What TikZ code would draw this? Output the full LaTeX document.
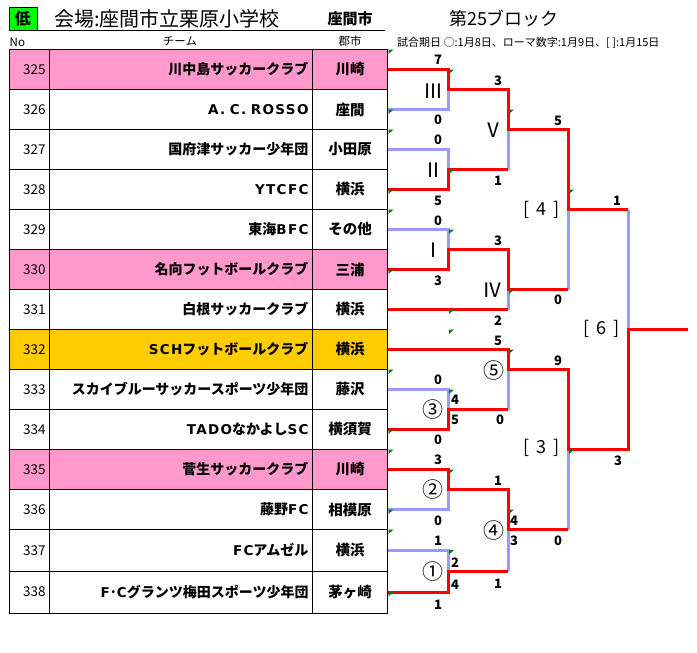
\documentclass[tikz,border=0pt]{standalone}
\usepackage{fontspec}
\newfontfamily\jp{Noto Sans CJK JP}
\newfontfamily\latw[LetterSpace=10]{DejaVu Sans}
\definecolor{rowpink}{RGB}{255,153,204}
\definecolor{roworange}{RGB}{255,204,0}
\definecolor{winred}{RGB}{255,0,0}
\definecolor{loseblue}{RGB}{153,153,255}
\definecolor{hdrgreen}{RGB}{0,255,0}
\definecolor{markgreen}{RGB}{0,128,0}
\newcommand\nofnt{\jp\fontsize{13.5}{14}\selectfont}
\newcommand\teamfnt{\jp\bfseries\fontsize{14}{16}\selectfont}
\newcommand\cityfnt{\jp\bfseries\fontsize{14.5}{16}\selectfont}
\newcommand\lt[1]{{\latw\bfseries\fontsize{13.5}{16}\selectfont #1}}
\tikzset{
  cellbox/.style={draw=black, line width=1pt, inner sep=0pt, inner xsep=4pt},
  score/.style={font=\jp\bfseries\fontsize{13}{13}\selectfont, inner sep=0pt},
  mlbl/.style={font=\jp\fontsize{20}{20}\selectfont, inner sep=0pt},
  clbl/.style={font=\jp\fontsize{21}{21}\selectfont, inner sep=0pt},
  rlbl/.style={font=\jp\fontsize{18}{18}\selectfont, inner sep=0pt},
  hdr/.style={font=\jp\fontsize{11.5}{12}\selectfont, inner sep=0pt},
  winline/.style={draw=winred, line width=3pt, line join=miter},
  loseline/.style={draw=loseblue, line width=3pt, line join=miter},
}
\newcommand\teamrow[6]{%
  \node[cellbox, fill=#4, minimum width=40pt, minimum height=#3pt, text width=32pt, align=right, font=\nofnt] (n#1) at (29.5,#2) {#1};
  \node[cellbox, fill=#4, minimum width=263pt, minimum height=#3pt, text width=255pt, align=right, font=\teamfnt] (t#1) at (181,#2) {#5};
  \node[cellbox, fill=#4, minimum width=75pt, minimum height=#3pt, font=\cityfnt] (c#1) at (350,#2) {#6};
}
\newcommand\cmark[2]{\fill[markgreen] (#1+1,#2) -- ++(5,0) -- ++(-5,4.5) -- cycle;}
\begin{document}
\begin{tikzpicture}[x=1pt,y=-1pt]
\useasboundingbox[fill=white] (0,0) rectangle (697,653);

% header
\node[draw=black, line width=1pt, fill=hdrgreen, minimum width=28pt, minimum height=23pt, inner sep=0pt, font=\jp\bfseries\fontsize{16}{16}\selectfont] (low) at (23,18.5) {低};
\node[anchor=west, inner sep=0pt, font=\jp\fontsize{20}{20}\selectfont] (venue) at (54,18.5) {会場:座間市立栗原小学校};
\coordinate (ulend) at (385,30.5);
\draw[line width=1pt] (low.south east) -- (ulend);
\node[inner sep=0pt, font=\jp\bfseries\fontsize{15}{15}\selectfont] (city) at (350,19) {座間市};
\node[inner sep=0pt, font=\jp\fontsize{18}{18}\selectfont] (block) at (504,19) {第25ブロック};
\node[hdr, anchor=west] (hno) at (9.5,42) {No};
\node[hdr] (hteam) at (180,41.5) {チーム};
\node[hdr] (hcity) at (350,41.5) {郡市};
\node[anchor=west, inner sep=0pt, font=\jp\fontsize{11}{11}\selectfont] (legend) at (397,43) {試合期日\ ○:1月8日、ローマ数字:1月9日、[\ ]:1月15日};

% table
\teamrow{325}{69.5}{40}{rowpink}{川中島サッカークラブ}{川崎}
\teamrow{326}{109.5}{40}{white}{\lt{A.\ C.\ ROSSO}}{座間}
\teamrow{327}{149.5}{40}{white}{国府津サッカー少年団}{小田原}
\teamrow{328}{189.5}{40}{white}{\lt{YTCFC}}{横浜}
\teamrow{329}{229.5}{40}{white}{東海\lt{BFC}}{その他}
\teamrow{330}{269.5}{40}{rowpink}{名向フットボールクラブ}{三浦}
\teamrow{331}{309.5}{40}{white}{白根サッカークラブ}{横浜}
\teamrow{332}{349.5}{40}{roworange}{\lt{SCH}フットボールクラブ}{横浜}
\teamrow{333}{389.5}{40}{white}{スカイブルーサッカースポーツ少年団}{藤沢}
\teamrow{334}{429.5}{40}{white}{\lt{TADO}なかよし\lt{SC}}{横須賀}
\teamrow{335}{469.5}{40}{rowpink}{菅生サッカークラブ}{川崎}
\teamrow{336}{509.5}{40}{white}{藤野\lt{FC}}{相模原}
\teamrow{337}{550.25}{41.5}{white}{\lt{FC}アムゼル}{横浜}
\teamrow{338}{592}{42}{white}{\lt{F}･\lt{C}グランツ梅田スポーツ少年団}{茅ヶ崎}

% bracket coordinates
\coordinate (jIII) at (448,89.5);
\coordinate (jII) at (448,169.5);
\coordinate (jV) at (508,129.5);
\coordinate (jI) at (448,249.5);
\coordinate (jIV) at (508,289.5);
\coordinate (jQ4) at (568,209.5);
\coordinate (jc3) at (448,409.5);
\coordinate (jc5) at (508,369.5);
\coordinate (jQ3) at (568,449.5);
\coordinate (jc2) at (448,489.5);
\coordinate (jc1) at (448,571);
\coordinate (jc4) at (508,529.5);
\coordinate (jQ6) at (628,329.5);
\coordinate (jQ6t) at (628,209.5);
\coordinate (vIIend) at (508,169.5);
\coordinate (ivbot) at (508,309.5);
\coordinate (q4bot) at (568,289.5);
\coordinate (c5bot) at (508,409.5);
\coordinate (c4bot) at (508,571);
\coordinate (q3bot) at (568,529.5);
\coordinate (champ) at (688,329.5);

% losing (blue) segments
\draw[loseline] (c326.east) -| (jIII);
\draw[loseline] (c327.east) -| (jII);
\draw[loseline] (jV) -- (vIIend);
\draw[loseline] (c329.east) -| (jI);
\draw[loseline] (jIV) -- (ivbot);
\draw[loseline] (jQ4) -- (q4bot);
\draw[loseline] (c333.east) -| (jc3);
\draw[loseline] (jc5) -- (c5bot);
\draw[loseline] (c336.east) -| (jc2);
\draw[loseline] (c337.east) -| (jc1);
\draw[loseline] (jc4) -- (c4bot);
\draw[loseline] (jQ3) -- (q3bot);
\draw[loseline] (jQ6t) -- (jQ6);

% winning (red) segments
\draw[winline] (c325.east) -| (jIII) -| (jV) -| (jQ4) -- (jQ6t);
\draw[winline] (c328.east) -| (jII) -- (vIIend);
\draw[winline] (c330.east) -| (jI) -| (jIV) -- (q4bot);
\draw[winline] (c331.east) -- (ivbot);
\draw[winline] (c332.east) -| (jc5) -| (jQ3) -| (jQ6) -- (champ);
\draw[winline] (c334.east) -| (jc3) -- (c5bot);
\draw[winline] (c335.east) -| (jc2) -| (jc4) -- (q3bot);
\draw[winline] (c338.east) -| (jc1) -- (c4bot);

% match labels
\node[mlbl] (mIII) at (433,91) {Ⅲ};
\node[mlbl] (mII) at (433,170) {Ⅱ};
\node[mlbl] (mV) at (493,130) {Ⅴ};
\node[mlbl] (mI) at (433,250) {Ⅰ};
\node[mlbl] (mIV) at (492,290) {Ⅳ};
\node[clbl] (m5) at (494,371) {⑤};
\node[clbl] (m3) at (433,410) {③};
\node[clbl] (m2) at (433,490) {②};
\node[clbl] (m4) at (494,531) {④};
\node[clbl] (m1) at (433,572) {①};
\node[rlbl] (r4) at (542,210) {[\hspace{7pt}4\hspace{7pt}]};
\node[rlbl] (r3) at (542,448) {[\hspace{7pt}3\hspace{7pt}]};
\node[rlbl] (r6) at (602,329) {[\hspace{7pt}6\hspace{7pt}]};

% scores
\node[score] (s1) at (438,60) {7};
\node[score] (s2) at (438,120) {0};
\node[score] (s3) at (438,140) {0};
\node[score] (s4) at (438,201) {5};
\node[score] (s5) at (498,81) {3};
\node[score] (s6) at (498,181) {1};
\node[score] (s7) at (558,121) {5};
\node[score] (s8) at (438,221) {0};
\node[score] (s9) at (438,281) {3};
\node[score] (s10) at (498,241) {3};
\node[score] (s11) at (498,321) {2};
\node[score] (s12) at (558,300) {0};
\node[score] (s13) at (617,201) {1};
\node[score] (s14) at (498,341) {5};
\node[score] (s15) at (500,420) {0};
\node[score] (s16) at (438,380) {0};
\node[score] (s17) at (455,400) {4};
\node[score] (s18) at (455,420) {5};
\node[score] (s19) at (438,440) {0};
\node[score] (s20) at (558,361) {9};
\node[score] (s21) at (618,461) {3};
\node[score] (s22) at (438,460) {3};
\node[score] (s23) at (498,481) {1};
\node[score] (s24) at (438,521) {0};
\node[score] (s25) at (514,521) {4};
\node[score] (s26) at (514,541) {3};
\node[score] (s27) at (558,541) {0};
\node[score] (s28) at (438,541) {1};
\node[score] (s29) at (455,563) {2};
\node[score] (s30) at (455,585) {4};
\node[score] (s31) at (498,584) {1};
\node[score] (s32) at (438,605) {1};

% comment markers
\cmark{387.5}{49.5}\cmark{448}{69.5}\cmark{387.5}{109.5}\cmark{387.5}{129.5}
\cmark{508}{109.5}\cmark{448}{169.5}\cmark{387.5}{189.5}\cmark{568}{189.5}
\cmark{387.5}{209.5}\cmark{448}{229.5}\cmark{387.5}{269.5}\cmark{508}{289.5}
\cmark{448}{309.5}\cmark{448}{329.5}\cmark{508}{349.5}\cmark{387.5}{369.5}
\cmark{448}{389.5}\cmark{387.5}{429.5}\cmark{387.5}{449.5}\cmark{568}{449.5}
\cmark{448}{469.5}\cmark{387.5}{509.5}\cmark{508}{509.5}\cmark{387.5}{529.5}
\cmark{448}{550}\cmark{387.5}{592}
\end{tikzpicture}
\end{document}
